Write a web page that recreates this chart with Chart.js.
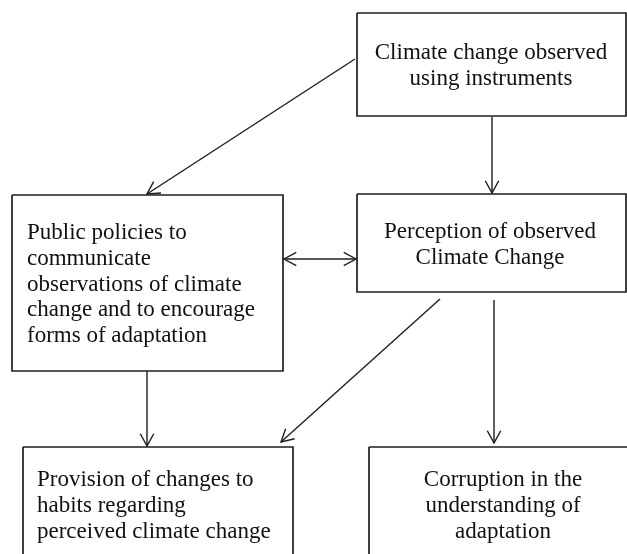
<!DOCTYPE html>
<html>
<head>
<meta charset="utf-8">
<script src="https://cdn.jsdelivr.net/npm/chart.js@4.4.0/dist/chart.umd.min.js"></script>
<style>
  html, body { margin: 0; padding: 0; background: #fff; }
  #wrap { width: 627px; height: 554px; position: relative; }
</style>
</head>
<body>
<div id="wrap"><canvas id="flow"></canvas></div>
<script>
// Nodes of the diagram (diagram units = pixels of the original figure)
const nodeLabels = [
    ['Climate change observed', 'using instruments'],
    ['Public policies to', 'communicate', 'observations of climate', 'change and to encourage', 'forms of adaptation'],
    ['Perception of observed', 'Climate Change'],
    ['Provision of changes to', 'habits regarding', 'perceived climate change'],
    ['Corruption in the', 'understanding of', 'adaptation']
];
const nodeLeft   = [357, 12, 357, 23, 369];
const nodeTop    = [13, 195, 194, 447, 447];
const nodeRight  = [626, 283, 626, 293, 640];
const nodeBottom = [116, 371, 292, 560, 560];
const nodeAlign  = ['center', 'left', 'center', 'left', 'center'];
const textX      = [491, 27, 490, 37, 503];
const textY      = [53, 233, 232, 480, 480];
const lineStep   = 25.8;

// Arrows: start x, start y, end x, end y (head at the end)
const arrowX1 = [355, 492, 284, 147, 440, 494];
const arrowY1 = [59, 117, 259, 371, 299, 300];
const arrowX2 = [147, 492, 356, 147, 281, 494];
const arrowY2 = [194, 193, 259, 446, 442, 443];
const arrowBoth = [false, false, true, false, false, false];

const ink = '#1e1e1e';

const datasets = [];
nodeLabels.forEach((lbl, i) => {
    datasets.push({
        data: [
            { x: nodeLeft[i], y: nodeTop[i] },
            { x: nodeRight[i], y: nodeTop[i] },
            { x: nodeRight[i], y: nodeBottom[i] },
            { x: nodeLeft[i], y: nodeBottom[i] },
            { x: nodeLeft[i], y: nodeTop[i] }
        ],
        borderColor: ink,
        borderWidth: 1.7,
        pointRadius: 0,
        showLine: true,
        tension: 0
    });
});
arrowX1.forEach((x, i) => {
    datasets.push({
        data: [{ x: arrowX1[i], y: arrowY1[i] }, { x: arrowX2[i], y: arrowY2[i] }],
        borderColor: ink,
        borderWidth: 1.4,
        pointRadius: 0,
        showLine: true,
        arrowHead: true,
        arrowBoth: arrowBoth[i]
    });
});

function drawHead(ctx, fx, fy, tx, ty) {
    const ang = Math.atan2(ty - fy, tx - fx);
    const len = 14, spread = 0.5;
    ctx.beginPath();
    ctx.moveTo(tx - len * Math.cos(ang - spread), ty - len * Math.sin(ang - spread));
    ctx.lineTo(tx, ty);
    ctx.lineTo(tx - len * Math.cos(ang + spread), ty - len * Math.sin(ang + spread));
    ctx.stroke();
}

const flowPlugin = {
    id: 'flowPlugin',
    afterDatasetsDraw(chart) {
        const ctx = chart.ctx;
        const sx = chart.scales.x, sy = chart.scales.y;
        ctx.save();
        ctx.strokeStyle = ink;
        ctx.lineWidth = 1.4;
        chart.data.datasets.forEach(ds => {
            if (!ds.arrowHead) return;
            const a = ds.data[0], b = ds.data[1];
            const ax = sx.getPixelForValue(a.x), ay = sy.getPixelForValue(a.y);
            const bx = sx.getPixelForValue(b.x), by = sy.getPixelForValue(b.y);
            drawHead(ctx, ax, ay, bx, by);
            if (ds.arrowBoth) drawHead(ctx, bx, by, ax, ay);
        });
        ctx.fillStyle = '#111';
        ctx.font = '23px "Liberation Serif", serif';
        ctx.textBaseline = 'middle';
        nodeLabels.forEach((lines, i) => {
            ctx.textAlign = nodeAlign[i];
            lines.forEach((t, k) => {
                ctx.fillText(t, sx.getPixelForValue(textX[i]), sy.getPixelForValue(textY[i] + k * lineStep));
            });
        });
        ctx.restore();
    }
};

new Chart(document.getElementById('flow'), {
    type: 'scatter',
    data: { datasets: datasets },
    options: {
        responsive: true,
        maintainAspectRatio: false,
        animation: false,
        layout: { padding: 0 },
        plugins: { legend: { display: false }, tooltip: { enabled: false } },
        scales: {
            x: { type: 'linear', min: 0, max: 627, display: false },
            y: { type: 'linear', min: 0, max: 554, reverse: true, display: false }
        }
    },
    plugins: [flowPlugin]
});
</script>
</body>
</html>
